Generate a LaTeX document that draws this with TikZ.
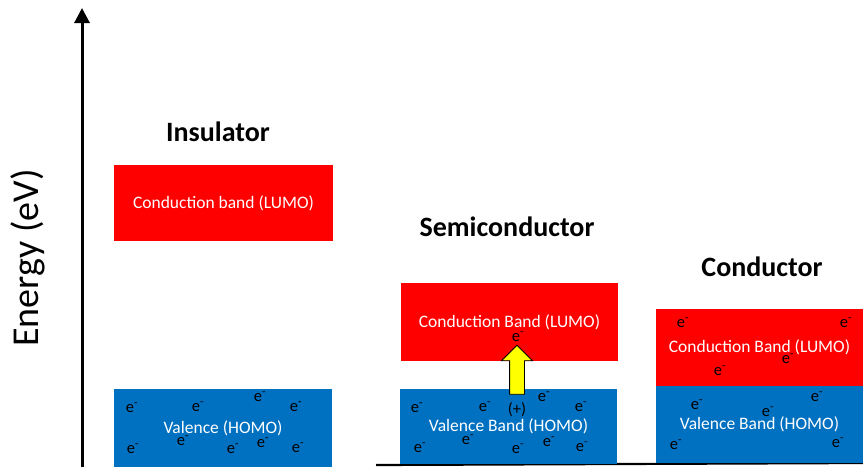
\documentclass[tikz,border=0pt]{standalone}
\usepackage{fontspec}
\setmainfont{Carlito}
\usetikzlibrary{positioning,arrows.meta,shapes.arrows}
\definecolor{bandred}{HTML}{FF0000}
\definecolor{bandblue}{HTML}{0070C0}
\definecolor{holeyellow}{HTML}{FFFF00}

\begin{document}
\begin{tikzpicture}[x=1pt,y=-1pt]
\tikzset{cband/.style={fill=bandred,text=white,font=\fontsize{17.5}{20}\selectfont,inner sep=0pt},
  vband/.style={fill=bandblue,text=white,font=\fontsize{17.5}{20}\selectfont,inner sep=0pt},
  title/.style={font=\fontsize{28}{32}\selectfont\bfseries,inner sep=0pt},
  elec/.style={font=\fontsize{16.5}{18}\selectfont,inner sep=0pt}}
\useasboundingbox (0,0) rectangle (863,467);
% energy axis
\coordinate (origin) at (82,467);
\coordinate (top) at (82,8);
\draw[line width=3pt,-{Triangle[width=15pt,length=15pt]}] (origin) -- (top);
\node[rotate=90,font=\fontsize{38}{42}\selectfont,inner sep=0pt] (energy) at (28,258) {Energy (eV)};
\coordinate (base l) at (376,465);
\coordinate (base r) at (863,463);
\draw[line width=2.2pt] (base l) -- (base r);
% insulator
\node[title] (ins) at (218,132) {Insulator};
\node[cband,minimum width=219pt,minimum height=76pt] (ins c) at (223.5,203) {Conduction band (LUMO)};
\node[vband,minimum width=218pt,minimum height=78pt] (ins v) at (223,428) {Valence (HOMO)};
\foreach \x/\y [count=\i] in {132/408,198/407,260/397,296/407,133/449,183/441,233/449,263/443,298/448}
  \node[elec] (ins e\i) at (\x,\y) {e\textsuperscript{-}};
% semiconductor
\node[title] (semi) at (507,227) {Semiconductor};
\node[cband,minimum width=217pt,minimum height=78pt] (semi c) at (509.5,322) {Conduction Band (LUMO)};
\node[vband,minimum width=217pt,minimum height=75pt] (semi v) at (508.5,426.5) {Valence Band (HOMO)};
\node[single arrow,draw=black,line width=0.8pt,fill=holeyellow,shape border rotate=90,
  minimum height=49pt,inner sep=7pt,single arrow head extend=8pt] (excite) at (517,373.5) {};
\node[elec] (semi e0) at (518,337) {e\textsuperscript{-}};
\node[elec] (hole) at (517,410) {(+)};
\foreach \x/\y [count=\i] in {417/408,485/407,544/397,581/407,420/448,468/440,518/449,549/442,582/447}
  \node[elec] (semi e\i) at (\x,\y) {e\textsuperscript{-}};
% conductor
\node[title] (cond) at (762,267) {Conductor};
\node[cband,minimum width=207pt,minimum height=77pt] (cond c) at (759.5,347.5) {Conduction Band (LUMO)};
\node[vband,minimum width=207pt,minimum height=77pt] (cond v) at (759.5,424.5) {Valence Band (HOMO)};
\foreach \x/\y [count=\i] in {683/323,846/323,788/359,720/371,697/405,817/397,768/412,676/445,838/443}
  \node[elec] (cond e\i) at (\x,\y) {e\textsuperscript{-}};
\end{tikzpicture}
\end{document}
